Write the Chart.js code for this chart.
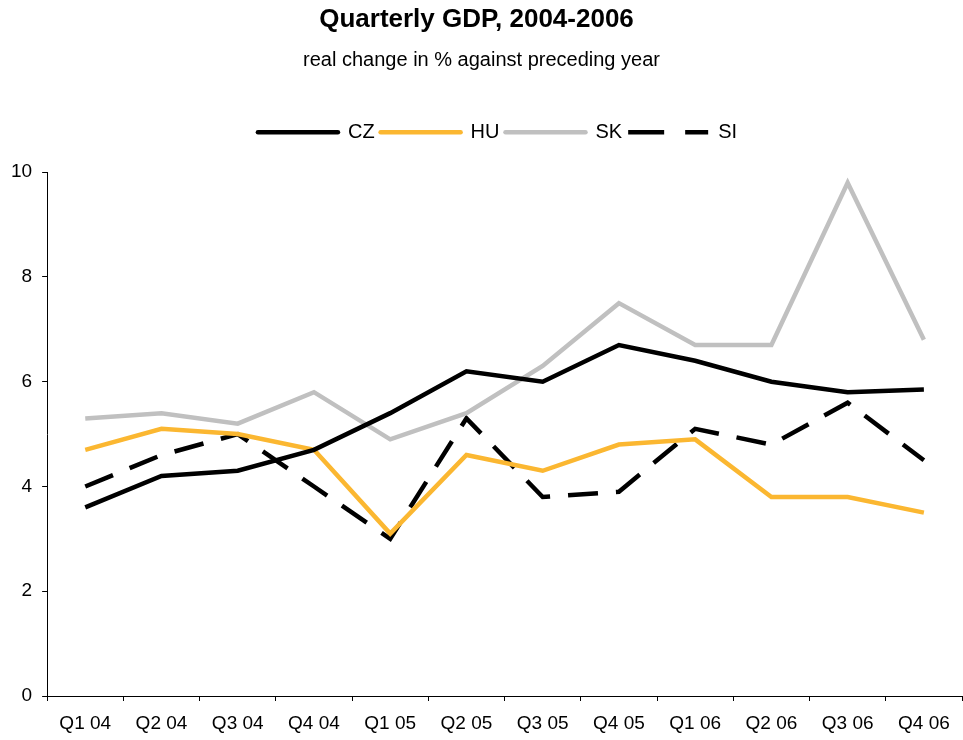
<!DOCTYPE html>
<html>
<head>
<meta charset="utf-8">
<script src="https://cdn.jsdelivr.net/npm/chart.js@4.4.1/dist/chart.umd.min.js"></script>
<style>
  body { margin: 0; background: #fff; }
  #wrap { width: 963px; height: 740px; position: relative; }
</style>
</head>
<body>
<div id="wrap"><canvas id="gdp"></canvas></div>
<script>
// quarters and real GDP growth, % y/y
var quarters = ['Q1 04', 'Q2 04', 'Q3 04', 'Q4 04', 'Q1 05', 'Q2 05', 'Q3 05', 'Q4 05', 'Q1 06', 'Q2 06', 'Q3 06', 'Q4 06'];
var cz = [3.6, 4.2, 4.3, 4.7, 5.4, 6.2, 6.0, 6.7, 6.4, 6.0, 5.8, 5.85];
var hu = [4.7, 5.1, 5.0, 4.7, 3.1, 4.6, 4.3, 4.8, 4.9, 3.8, 3.8, 3.5];
var sk = [5.3, 5.4, 5.2, 5.8, 4.9, 5.4, 6.3, 7.5, 6.7, 6.7, 9.8, 6.8];
var si = [4.0, 4.6, 5.0, 4.0, 3.0, 5.3, 3.8, 3.9, 5.1, 4.8, 5.6, 4.5];

Chart.defaults.font.family = 'Arial, "Liberation Sans", sans-serif';
Chart.defaults.color = '#000';

function serie(label, data, color, dash) {
    return {
        label: label,
        data: data,
        borderColor: color,
        backgroundColor: color,
        borderWidth: 4.5,
        borderDash: dash || [],
        pointRadius: 0,
        fill: false,
        tension: 0
    };
}

// shift a box sideways when drawn
function nudge(box, dx) {
    var draw = box.draw;
    box.draw = function () {
        var g = this.ctx;
        g.save();
        g.translate(dx, 0);
        draw.apply(this, arguments);
        g.restore();
    };
}

// extra space under legend, legend over the plot, titles a bit left
var tweaks = {
    id: 'tweaks',
    beforeInit: function (c) {
        var fit = c.legend.fit;
        c.legend.fit = function () {
            fit.call(this);
            this.height += 20;
        };
        nudge(c.legend, 16);
        nudge(c.titleBlock, -5);
    }
};

var ctx = document.getElementById('gdp').getContext('2d');
var chart = new Chart(ctx, {
    type: 'line',
    data: {
        labels: quarters,
        datasets: [
            serie('CZ', cz, '#000000'),
            serie('HU', hu, '#FBB731'),
            serie('SK', sk, '#C0C0C0'),
            serie('SI', si, '#000000', [30, 18])
        ]
    },
    options: {
        responsive: true,
        maintainAspectRatio: false,
        animation: false,
        layout: { padding: { left: 1, right: 1, top: 0, bottom: -6 } },
        plugins: {
            title: {
                display: true,
                text: 'Quarterly GDP, 2004-2006',
                font: { size: 26, weight: 'bold' },
                padding: { top: 4, bottom: 13 }
            },
            subtitle: {
                display: true,
                text: 'real change in % against preceding year',
                font: { size: 20 },
                padding: { bottom: 44 }
            },
            legend: {
                labels: {
                    usePointStyle: true,
                    pointStyle: 'line',
                    pointStyleWidth: 80,
                    boxHeight: 20,
                    padding: 6,
                    font: { size: 20 },
                    generateLabels: function (c) {
                        var items = Chart.defaults.plugins.legend.labels.generateLabels(c);
                        items.forEach(function (it) {
                            it.pointStyle = 'line';
                            it.lineWidth = 4.5;
                            it.lineCap = 'round';
                            if (it.text === 'SI') { it.lineDash = [36, 21]; it.lineCap = 'butt'; }
                        });
                        return items;
                    }
                }
            },
            tooltip: { enabled: false }
        },
        scales: {
            x: {
                offset: true,
                grid: { offset: true, drawOnChartArea: false, color: '#000', tickLength: 5 },
                border: { color: '#000', width: 1 },
                ticks: { font: { size: 19, lineHeight: 1 }, maxRotation: 0, padding: 13 }
            },
            y: {
                min: 0,
                max: 10,
                ticks: { stepSize: 2, font: { size: 19 }, padding: 10 },
                grid: { drawOnChartArea: false, color: '#000', tickLength: 5 },
                border: { color: '#000', width: 1 }
            }
        }
    },
    plugins: [tweaks]
});
</script>
</body>
</html>
